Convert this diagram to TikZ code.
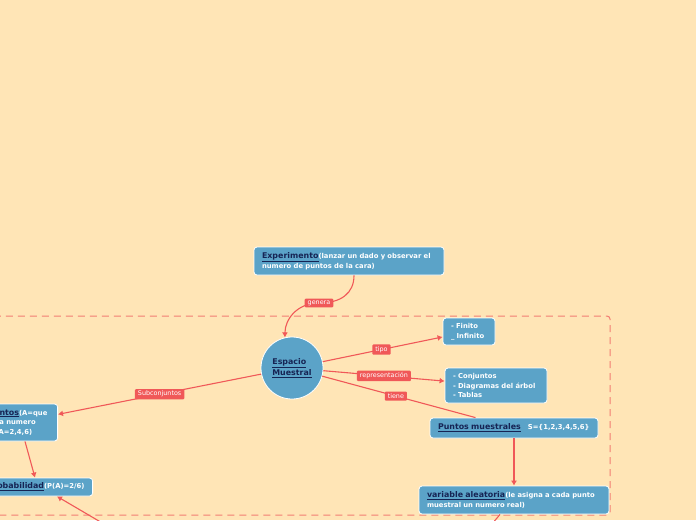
\documentclass[tikz,border=0pt]{standalone}
\usepackage{fontspec}
\setmainfont{DejaVu Sans}
\usepackage{xcolor}
\usetikzlibrary{arrows.meta}
\definecolor{fondo}{RGB}{255,229,182}
\definecolor{cajaazul}{RGB}{91,163,200}
\definecolor{tinta}{RGB}{22,36,84}
\definecolor{rojo}{RGB}{240,88,88}
\definecolor{borde}{RGB}{242,125,115}
\newcommand{\tit}[1]{{\fontsize{7.9}{9.5}\selectfont\color{tinta}\underline{#1}}}

\begin{document}
\begin{tikzpicture}[x=1pt,y=-1pt,
  caja/.style={rounded corners=3pt,fill=cajaazul,draw=white,line width=0.8pt,align=left,text=white,
    font=\fontsize{6.8}{9.5}\selectfont\bfseries,inner xsep=8pt,inner ysep=3pt},
  etiq/.style={fill=rojo,text=white,font=\fontsize{6.4}{7}\selectfont,inner xsep=3pt,inner ysep=2pt,rounded corners=1pt},
  conn/.style={draw=rojo,line width=1.1pt},
  flecha/.style={conn,-{Latex[length=5pt,width=6pt]}}]
\fill[fondo] (0,0) rectangle (696,520);
\useasboundingbox (0,0) rectangle (696,520);
\clip (0,0) rectangle (696,520);
\draw[borde,line width=1pt,dash pattern=on 7pt off 5pt,rounded corners=3pt] (-10,316) rectangle (610,515);

\node[caja,text width=174pt,minimum height=28pt] (expe) at (349,261) {\tit{Experimento}(lanzar un dado y observar el\\numero de puntos de la cara)};
\node[circle,fill=cajaazul,draw=white,line width=0.8pt,minimum size=62pt,align=left,inner sep=0pt,
  font=\bfseries\fontsize{7.9}{9.5}\selectfont] (esp) at (292,368) {\tit{Espacio}\\\tit{Muestral}};
\node[caja,text width=36pt,minimum height=27pt] (fin) at (469,331.5) {- Finito\\\_ Infinito};
\node[caja,text width=86pt,minimum height=35pt] (conj) at (496,385.5) {- Conjuntos\\- Diagramas del árbol\\- Tablas};
\node[caja,text width=152pt,minimum height=20pt] (punt) at (514,428) {\tit{Puntos muestrales}\hspace{7pt}S=\{1,2,3,4,5,6\}};
\node[caja,text width=174pt,minimum height=28pt] (var) at (514,500) {\tit{variable aleatoria}(le asigna a cada punto\\muestral un numero real)};
\node[caja,text width=66pt,minimum height=37pt,anchor=east] (even) at (58,422.5) {\tit{Eventos}(A=que\\salga numero\\par A=2,4,6)};
\node[caja,text width=97pt,minimum height=18pt,anchor=east] (prob) at (93,487) {\tit{Probabilidad}(P(A)=2/6)};

% genera
\coordinate (genp) at (319,303);
\draw[conn] ([xshift=5pt]expe.south) .. controls +(0,18) and +(22,0) .. (genp);
\draw[flecha] (genp) .. controls +(-22,0) and +(0,-18) .. (esp.103);
\node[etiq] (gen) at (genp) {genera};

\draw[flecha] (esp) -- (fin) node[etiq,pos=.49] (tipo) {tipo};
\draw[flecha] (esp) -- (conj) node[etiq,pos=.5] (rep) {representación};
\draw[conn] (esp) -- (punt) node[etiq,pos=.48] (tiene) {tiene};
\draw[flecha] (esp) -- (even) node[etiq,pos=.5] (sub) {Subconjuntos};

\draw[flecha] (punt) -- (var);
\draw[flecha] ([xshift=-33pt]even.south east) -- ([xshift=-58pt]prob.north east);
\coordinate (abajo1) at (104,524);
\draw[flecha] (abajo1) -- ([xshift=-36pt]prob.south east);
\coordinate (abajo2) at (492,524);
\draw[conn] ([xshift=-14pt]var.south) -- (abajo2);
\end{tikzpicture}
\end{document}
